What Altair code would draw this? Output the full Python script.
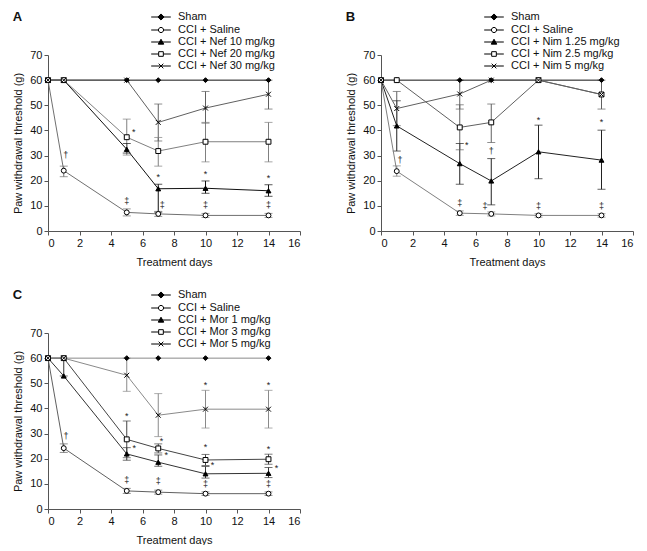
import altair as alt
import pandas as pd

FONT = "Liberation Sans"

DAYS = [0, 1, 5, 7, 10, 14]
X_TICKS = [0, 2, 4, 6, 8, 10, 12, 14, 16]
Y_TICKS = [0, 10, 20, 30, 40, 50, 60, 70]

SHAPES = ["diamond", "circle", "triangle-up", "square", "M-1,-1L1,1M-1,1L1,-1"]
FILLS = ["black", "white", "black", "white", "black"]
STROKES = ["black", "black", "black", "black", "black"]
LEGEND_PATHS = [
    "M-1.6,0H1.6M0,-0.5L0.5,0L0,0.5L-0.5,0Z",
    "M-1.6,0H-0.42M0.42,0H1.6M0.42,0A0.42,0.42 0 1,1 -0.42,0A0.42,0.42 0 1,1 0.42,0Z",
    "M-1.6,0H1.6M0,-0.45L0.45,0.35L-0.45,0.35Z",
    "M-1.6,0H-0.38M0.38,0H1.6M-0.38,-0.38H0.38V0.38H-0.38Z",
    "M-1.6,0H1.6M-0.38,-0.38L0.38,0.38M-0.38,0.38L0.38,-0.38",
]

# ---------- Panel A (nefopam) ----------
A_NAMES = ["Sham", "CCI + Saline", "CCI + Nef 10 mg/kg", "CCI + Nef 20 mg/kg", "CCI + Nef 30 mg/kg"]
A_MEAN = [
    [60, 60, 60, 60, 60, 60],
    [60, 24.0, 7.4, 6.8, 6.2, 6.2],
    [60, 60, 32.5, 16.8, 17.0, 16.0],
    [60, 60, 37.3, 31.8, 35.5, 35.5],
    [60, 60, 60, 43.2, 48.9, 54.4],
]
A_LO = [
    [None] * 6,
    [None, 21.6, 6.0, 5.8, 5.4, 5.4],
    [None, None, 31.0, 7.5, 15.0, 13.8],
    [None, None, 30.2, 25.8, 27.5, 27.5],
    [None, None, None, 35.8, 42.9, 48.5],
]
A_HI = [
    [None] * 6,
    [None, 25.8, 8.8, 7.8, 7.0, 7.0],
    [None, None, 34.8, 18.6, 19.9, 18.4],
    [None, None, 44.5, 37.2, 43.2, 43.2],
    [None, None, None, 50.5, 55.5, 60.0],
]
A_COLORS = ["#111111", "#707070", "#111111", "#808080", "#606060"]
A_ANN_X = [1.12, 5.45, 5.0, 7.0, 7.25, 10, 10, 14, 14]
A_ANN_Y = [30.2, 39.5, 11.8, 21.5, 10.2, 22.6, 10.2, 21.2, 10.2]
A_ANN_T = ["†", "*", "‡", "*", "‡", "*", "‡", "*", "‡"]

# ---------- Panel B (nimodipine) ----------
B_NAMES = ["Sham", "CCI + Saline", "CCI + Nim 1.25 mg/kg", "CCI + Nim 2.5 mg/kg", "CCI + Nim 5 mg/kg"]
B_MEAN = [
    [60, 60, 60, 60, 60, 60],
    [60, 23.8, 7.1, 6.8, 6.2, 6.2],
    [60, 41.8, 26.8, 19.9, 31.5, 28.2],
    [60, 60, 41.2, 43.2, 60, 54.3],
    [60, 48.7, 54.5, 60, 60, 54.3],
]
B_LO = [
    [None] * 6,
    [None, 21.8, 6.2, 6.0, 5.5, 5.5],
    [None, 31.8, 18.6, 10.4, 20.8, 16.6],
    [None, None, 32.3, 35.2, None, 48.5],
    [None, 41.9, 48.5, None, None, None],
]
B_HI = [
    [None] * 6,
    [None, 25.9, 8.0, 7.6, 6.9, 6.9],
    [None, 51.8, 34.8, 28.8, 42.1, 40.1],
    [None, None, 50.2, 50.5, None, 60.0],
    [None, 55.5, 60.0, None, None, None],
]
B_COLORS = ["#111111", "#808080", "#222222", "#606060", "#606060"]
B_ANN_X = [1.2, 5.45, 5.0, 7.0, 6.6, 10, 10, 14, 14]
B_ANN_Y = [28.3, 34.2, 11.3, 31.9, 9.8, 44.2, 9.8, 43.2, 9.8]
B_ANN_T = ["†", "*", "‡", "†", "‡", "*", "‡", "*", "‡"]

# ---------- Panel C (morphine) ----------
C_NAMES = ["Sham", "CCI + Saline", "CCI + Mor 1 mg/kg", "CCI + Mor 3 mg/kg", "CCI + Mor 5 mg/kg"]
C_MEAN = [
    [60, 60, 60, 60, 60, 60],
    [60, 24.2, 7.2, 6.7, 6.1, 6.1],
    [60, 52.9, 21.9, 18.6, 14.0, 14.2],
    [60, 60, 27.7, 24.1, 19.5, 19.8],
    [60, 60, 53.2, 37.3, 39.7, 39.7],
]
C_LO = [
    [None] * 6,
    [None, 22.5, 6.2, 5.9, 5.4, 5.4],
    [None, 52.9, 19.4, 17.0, 12.3, 12.5],
    [None, None, 20.4, 22.3, 17.3, 17.8],
    [None, None, 46.8, 28.8, 32.2, 32.2],
]
C_HI = [
    [None] * 6,
    [None, 25.9, 8.2, 7.5, 6.8, 6.8],
    [None, 60.0, 24.4, 21.5, 16.9, 16.5],
    [None, None, 35.0, 25.9, 21.7, 21.8],
    [None, None, 60.0, 45.9, 47.2, 47.2],
]
C_COLORS = ["#8a8a8a", "#606060", "#333333", "#444444", "#8a8a8a"]
C_ANN_X = [1.15, 5.0, 5.47, 5.0, 7.2, 7.5, 7.0, 10, 10, 10.45, 10, 14, 14, 14.5, 14]
C_ANN_Y = [29.2, 36.9, 24.1, 11.6, 27.0, 21.5, 11.0, 49.5, 24.8, 17.6, 9.9, 49.5, 23.9, 16.5, 9.9]
C_ANN_T = ["†", "*", "*", "‡", "*", "*", "‡", "*", "*", "*", "‡", "*", "*", "*", "‡"]

W, H = 252, 176
Y_TITLE = "Paw withdrawal threshold (g)"


def panel(letter, names, means, los, his, colors, ax, ay, at):
    rows = []
    for name, m, lo, hi in zip(names, means, los, his):
        for d, v, l, h in zip(DAYS, m, lo, hi):
            rows.append({"series": name, "day": d, "value": v,
                         "lo": float("nan") if l is None else l,
                         "hi": float("nan") if h is None else h})
    df = pd.DataFrame(rows)
    ann = pd.DataFrame({"day": ax, "value": ay, "sym": at})

    x = alt.X("day:Q", scale=alt.Scale(domain=[0, 16], nice=False),
              axis=alt.Axis(values=X_TICKS, title="Treatment days", titlePadding=8))

    def y(field):
        return alt.Y(f"{field}:Q", scale=alt.Scale(domain=[0, 70], nice=False),
                     axis=alt.Axis(values=Y_TICKS, title=Y_TITLE))

    color = alt.Color("series:N", scale=alt.Scale(domain=names, range=colors), legend=None)
    base = alt.Chart(df)
    err = base.transform_filter("isValid(datum.lo) && isFinite(datum.lo)")

    rules = err.mark_rule(strokeWidth=1).encode(x=x, y=y("lo"), y2="hi:Q", color=color)
    tick_lo = err.mark_tick(orient="horizontal", size=8, thickness=1).encode(x=x, y=y("lo"), color=color)
    tick_hi = err.mark_tick(orient="horizontal", size=8, thickness=1).encode(x=x, y=y("hi"), color=color)
    lines = base.mark_line(strokeWidth=1).encode(x=x, y=y("value"), color=color, detail="series:N")
    points = base.mark_point(size=24, strokeWidth=1, opacity=1).encode(
        x=x, y=y("value"),
        shape=alt.Shape("series:N", scale=alt.Scale(domain=names, range=SHAPES), legend=None),
        fill=alt.Fill("series:N", scale=alt.Scale(domain=names, range=FILLS), legend=None),
        stroke=alt.value("black"),
    )
    texts = alt.Chart(ann).mark_text(font=FONT, fontSize=9, color="#222", baseline="middle").encode(
        x=x, y=y("value"), text="sym:N")

    leg = alt.Legend(orient="none", legendX=106, legendY=-45, title=None,
                     labelFont=FONT, labelFontSize=11, labelColor="#111",
                     symbolSize=150, symbolStrokeColor="black", symbolStrokeWidth=1,
                     symbolOpacity=1, labelOffset=10, rowPadding=0, padding=0)
    legend_layer = base.transform_filter("false").mark_point(size=150, strokeWidth=1, opacity=1).encode(
        x=x, y=y("value"),
        shape=alt.Shape("series:N", scale=alt.Scale(domain=names, range=LEGEND_PATHS), legend=leg),
        fill=alt.Fill("series:N", scale=alt.Scale(domain=names, range=FILLS), legend=leg),
        stroke=alt.Stroke("series:N", scale=alt.Scale(domain=names, range=STROKES), legend=leg),
        opacity=alt.value(1),
    )
    return alt.layer(rules, tick_lo, tick_hi, lines, points, texts, legend_layer).resolve_scale(
        shape="independent", fill="independent", stroke="independent"
    ).properties(
        width=W, height=H,
        title=alt.TitleParams(letter, anchor="start", frame="bounds", fontSize=13, offset=-14,
                              fontWeight="bold", font=FONT, color="#111"),
    )


pA = panel("A", A_NAMES, A_MEAN, A_LO, A_HI, A_COLORS, A_ANN_X, A_ANN_Y, A_ANN_T)
pB = panel("B", B_NAMES, B_MEAN, B_LO, B_HI, B_COLORS, B_ANN_X, B_ANN_Y, B_ANN_T)
pC = panel("C", C_NAMES, C_MEAN, C_LO, C_HI, C_COLORS, C_ANN_X, C_ANN_Y, C_ANN_T)

top = alt.hconcat(pA, pB, spacing=44).resolve_scale(
    color="independent", shape="independent", fill="independent", stroke="independent")
chart = alt.vconcat(top, pC, spacing=21).resolve_scale(
    color="independent", shape="independent", fill="independent", stroke="independent"
).properties(padding={"left": 4, "top": 2, "right": 0, "bottom": 0}).configure_view(stroke=None).configure_axis(
    grid=False, labelFont=FONT, titleFont=FONT, labelFontSize=11, titleFontSize=11,
    titleFontWeight="normal", domainColor="#555", tickColor="#555", tickSize=4,
    labelColor="#111", titleColor="#111", labelPadding=2, titlePadding=6,
)

chart.save("out.html", embed_options={"renderer": "svg", "actions": False})
